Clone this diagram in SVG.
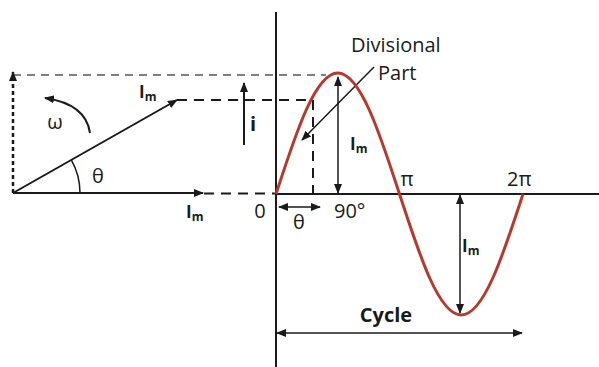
<svg xmlns="http://www.w3.org/2000/svg" width="599" height="367" viewBox="0 0 599 367">
<style>
  text { font-family: "Open Sans", "Liberation Sans", sans-serif; fill: #1a1a1a; }
  .lbl { font-size: 20px; }
  .im { font-size: 17px; font-weight: bold; }
  .sub { font-size: 12px; font-weight: bold; }
  .ln { stroke: #1a1a1a; stroke-width: 2; fill: none; }
  .thin { stroke: #1a1a1a; stroke-width: 1.5; fill: none; }
  .dash { stroke: #1a1a1a; stroke-width: 2; stroke-dasharray: 10 7; fill: none; }
  .gdash { stroke: #555; stroke-width: 1.5; stroke-dasharray: 8 6; fill: none; }
  .dot { stroke: #1a1a1a; stroke-width: 2.5; stroke-dasharray: 4 3; fill: none; }
</style>
<defs>
  <marker id="ah" markerWidth="10" markerHeight="8" refX="9" refY="4" orient="auto" markerUnits="userSpaceOnUse">
    <path d="M0,0 L10,4 L0,8 Z" fill="#1a1a1a"/>
  </marker>
  <marker id="ahs" markerWidth="10" markerHeight="8" refX="1" refY="4" orient="auto" markerUnits="userSpaceOnUse">
    <path d="M10,0 L0,4 L10,8 Z" fill="#1a1a1a"/>
  </marker>
</defs>

<g id="axes">
  <line class="ln" x1="276" y1="12" x2="276" y2="367"/>
  <line class="ln" x1="276" y1="194" x2="599" y2="194"/>
</g>

<g id="connectors">
  <line class="gdash" x1="13" y1="75" x2="326" y2="75"/>
  <line class="dash" x1="177" y1="100" x2="313" y2="100"/>
  <line class="dash" x1="313" y1="100" x2="313" y2="194"/>
  <line class="dash" x1="204" y1="193.5" x2="276" y2="193.5"/>
  <line class="dot" x1="13" y1="193" x2="13" y2="72" marker-end="url(#ah)"/>
  <line class="ln" x1="13" y1="193" x2="177" y2="100" marker-end="url(#ah)"/>
  <line class="ln" x1="13" y1="193" x2="203" y2="193" marker-end="url(#ah)"/>
  <path class="thin" d="M80,193 A67,67 0 0 0 71.3,159.9"/>
  <path class="ln" d="M90,133 Q86,104 45,98" marker-end="url(#ah)"/>
  <line class="ln" x1="244" y1="145" x2="244" y2="83" marker-end="url(#ah)"/>
  <line class="thin" x1="338" y1="77" x2="338" y2="193" marker-start="url(#ahs)" marker-end="url(#ah)"/>
  <line class="thin" x1="460" y1="195" x2="460" y2="313" marker-start="url(#ahs)" marker-end="url(#ah)"/>
  <line class="thin" x1="374" y1="67" x2="302" y2="140" marker-end="url(#ah)"/>
  <line class="thin" x1="279" y1="207" x2="320" y2="207" marker-start="url(#ahs)" marker-end="url(#ah)"/>
  <line class="thin" x1="277" y1="333" x2="522" y2="333" marker-start="url(#ahs)" marker-end="url(#ah)"/>
</g>

<g id="sine">
  <path d="M276,194 C296.14,132.01 315.40,73 337.75,73 S379.36,132.01 399.5,194 S438.90,315 461.25,315 S502.86,255.99 523,194" fill="none" stroke="#b8392c" stroke-width="3"/>
</g>

<g id="labels">
  <text class="lbl" x="55" y="129" text-anchor="middle" font-size="22">ω</text>
  <text class="lbl" x="98" y="183" text-anchor="middle">θ</text>
  <text class="im" x="139" y="98">I<tspan class="sub" dy="3">m</tspan></text>
  <text class="lbl" x="253" y="131" text-anchor="middle" font-weight="bold">i</text>
  <text class="im" x="186" y="218">I<tspan class="sub" dy="3">m</tspan></text>
  <text class="lbl" x="260" y="218" text-anchor="middle">0</text>
  <text class="lbl" x="299" y="229" text-anchor="middle">θ</text>
  <text class="lbl" x="334" y="218">90°</text>
  <text class="im" x="350" y="150">I<tspan class="sub" dy="3">m</tspan></text>
  <text class="lbl" x="407" y="186" text-anchor="middle">π</text>
  <text class="lbl" x="507" y="186">2π</text>
  <text class="im" x="462" y="252">I<tspan class="sub" dy="3">m</tspan></text>
  <text class="lbl" x="386" y="322" text-anchor="middle" font-weight="bold" font-size="19.5">Cycle</text>
  <text class="lbl" x="351" y="52" font-size="21">Divisional</text>
  <text class="lbl" x="378" y="80" font-size="21">Part</text>
</g>
</svg>
